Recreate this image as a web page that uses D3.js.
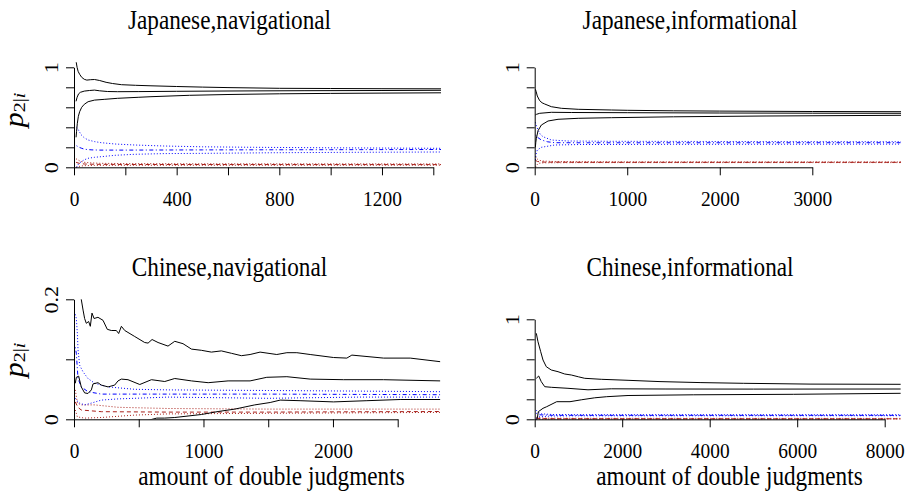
<!DOCTYPE html>
<html>
<head>
<meta charset="utf-8">
<script src="https://cdn.jsdelivr.net/npm/d3@7"></script>
<style>
  body { margin: 0; background: #fff; }
  text { font-family: "Liberation Serif", "Times New Roman", serif; fill: #000; }
</style>
</head>
<body>
<svg id="chart" width="909" height="492"></svg>
<script>
// ---- data: [amount of double judgments, p] ----
// Japanese, navigational
const jnBlackUp  = [[8,1.06],[12,1.0],[16,0.96],[22,0.93],[30,0.9],[40,0.88],[50,0.872],[65,0.876],[80,0.878],[100,0.868],[125,0.85],[150,0.838],[185,0.826],[240,0.82],[300,0.815],[400,0.808],[500,0.802],[600,0.797],[800,0.79],[1000,0.788],[1200,0.786],[1430,0.785]];
const jnBlackMid = [[8,0.66],[12,0.7],[18,0.735],[25,0.75],[40,0.762],[60,0.768],[80,0.772],[100,0.765],[130,0.758],[170,0.756],[250,0.757],[400,0.76],[600,0.763],[900,0.766],[1200,0.768],[1430,0.77]];
const jnBlackLo  = [[8,0.3],[10,0.36],[13,0.44],[17,0.51],[22,0.556],[30,0.6],[40,0.63],[55,0.656],[80,0.672],[120,0.68],[170,0.69],[250,0.7],[300,0.706],[450,0.72],[600,0.728],[800,0.735],[1000,0.739],[1200,0.742],[1430,0.745]];
const jnBlueUp   = [[10,0.4],[14,0.39],[20,0.36],[28,0.325],[40,0.295],[55,0.273],[80,0.257],[106,0.246],[160,0.233],[236,0.223],[350,0.213],[500,0.205],[700,0.2],[1000,0.195],[1430,0.19]];
const jnBlueMid  = [[10,0.215],[20,0.2],[30,0.19],[42,0.18],[70,0.174],[100,0.172],[200,0.172],[500,0.174],[1000,0.176],[1430,0.178]];
const jnBlueLo   = [[10,0.0],[14,0.02],[20,0.04],[28,0.056],[40,0.075],[55,0.09],[80,0.1],[106,0.106],[160,0.12],[236,0.13],[350,0.137],[530,0.14],[800,0.146],[1100,0.15],[1430,0.153]];
const jnRedUp    = [[8,0.085],[15,0.075],[25,0.06],[40,0.05],[60,0.045],[100,0.04],[200,0.037],[500,0.035],[1430,0.034]];
const jnRedMid   = [[8,0.05],[20,0.04],[40,0.033],[80,0.03],[200,0.028],[1430,0.027]];
const jnRedLo    = [[8,0.0],[15,0.005],[25,0.012],[40,0.016],[80,0.019],[200,0.02],[1430,0.021]];

// Japanese, informational
const jiBlackUp  = [[7,0.78],[15,0.76],[28,0.713],[54,0.666],[80,0.645],[108,0.633],[180,0.606],[288,0.59],[470,0.58],[830,0.573],[1000,0.57],[1500,0.565],[2000,0.562],[3000,0.558],[3960,0.556]];
const jiBlackMid = [[7,0.523],[20,0.53],[54,0.54],[180,0.55],[400,0.548],[1000,0.546],[2000,0.543],[3000,0.541],[3960,0.54]];
const jiBlackLo  = [[7,0.2],[12,0.25],[18,0.29],[36,0.366],[72,0.423],[144,0.463],[252,0.48],[470,0.49],[830,0.496],[1500,0.505],[2500,0.513],[3960,0.52]];
const jiBlueUp   = [[7,0.45],[20,0.41],[36,0.373],[60,0.33],[90,0.306],[180,0.273],[360,0.263],[800,0.26],[2000,0.258],[3960,0.256]];
const jiBlueMid  = [[7,0.325],[30,0.3],[72,0.273],[140,0.255],[216,0.246],[500,0.245],[3960,0.246]];
const jiBlueLo   = [[7,0.073],[15,0.13],[28,0.173],[72,0.2],[216,0.223],[500,0.228],[1500,0.23],[3960,0.232]];
const jiRedUp    = [[7,0.106],[20,0.09],[40,0.073],[80,0.063],[200,0.058],[1000,0.055],[3960,0.054]];
const jiRedMid   = [[7,0.07],[30,0.058],[100,0.052],[500,0.05],[3960,0.05]];
const jiRedLo    = [[7,0.0],[20,0.02],[40,0.04],[100,0.045],[500,0.047],[3960,0.047]];

// Chinese, navigational
const cnBlackUp  = [[20,0.3],[56,0.2],[70,0.182],[82,0.168],[95,0.16],[113,0.163],[126,0.155],[139,0.177],[155,0.168],[185,0.17],[224,0.165],[257,0.15],[288,0.148],[327,0.148],[345,0.143],[366,0.155],[392,0.148],[469,0.138],[546,0.128],[572,0.127],[603,0.133],[649,0.128],[726,0.122],[778,0.13],[842,0.126],[907,0.117],[984,0.115],[1061,0.112],[1138,0.114],[1216,0.11],[1293,0.106],[1360,0.108],[1437,0.112],[1566,0.108],[1644,0.111],[1721,0.111],[1824,0.108],[2004,0.103],[2107,0.102],[2146,0.107],[2391,0.102],[2597,0.102],[2829,0.096]];
const cnBlackMid = [[10,0.06],[18,0.07],[36,0.072],[56,0.054],[82,0.044],[108,0.043],[134,0.049],[147,0.059],[185,0.061],[211,0.057],[263,0.054],[314,0.057],[340,0.064],[366,0.067],[417,0.066],[508,0.058],[598,0.066],[701,0.063],[778,0.068],[907,0.064],[1036,0.061],[1190,0.064],[1360,0.064],[1489,0.07],[1644,0.071],[1824,0.067],[2081,0.066],[2391,0.066],[2829,0.064]];
const cnBlackLo  = [[10,-0.05],[300,-0.02],[550,-0.003],[639,0.002],[700,0.002],[778,0.003],[984,0.008],[1113,0.013],[1242,0.017],[1396,0.024],[1515,0.028],[1592,0.032],[1746,0.031],[2004,0.029],[2262,0.031],[2519,0.033],[2829,0.033]];
const cnBlueUp   = [[10,0.175],[18,0.168],[26,0.143],[31,0.116],[44,0.09],[70,0.079],[108,0.068],[160,0.06],[263,0.054],[469,0.05],[726,0.049],[1500,0.048],[2200,0.047],[2829,0.046]];
const cnBlueMid  = [[10,0.12],[18,0.11],[31,0.068],[56,0.054],[108,0.046],[211,0.042],[1500,0.042],[2829,0.041]];
const cnBlueLo   = [[10,0.035],[18,0.032],[44,0.027],[82,0.024],[134,0.027],[211,0.032],[340,0.034],[726,0.037],[1500,0.035],[2200,0.037],[2829,0.037]];
const cnRedUp    = [[10,0.049],[26,0.027],[56,0.024],[160,0.024],[340,0.02],[726,0.018],[1500,0.017],[2829,0.017]];
const cnRedMid   = [[10,0.029],[30,0.02],[56,0.0155],[211,0.0127],[726,0.012],[1500,0.012],[2829,0.013]];
const cnRedLo    = [[10,0.0155],[26,0.004],[82,0.002],[211,0.003],[469,0.007],[726,0.009],[1500,0.01],[2829,0.0115]];

// Chinese, informational
const ciBlackUp  = [[37,0.86],[75,0.776],[137,0.676],[190,0.593],[265,0.526],[380,0.493],[533,0.476],[686,0.453],[837,0.443],[1000,0.425],[1143,0.41],[1522,0.4],[2133,0.39],[2864,0.377],[3800,0.367],[4768,0.36],[6293,0.352],[8366,0.35]];
const ciBlackMid = [[37,0.41],[91,0.433],[151,0.376],[229,0.326],[380,0.32],[761,0.31],[1218,0.295],[1751,0.305],[3000,0.303],[5000,0.302],[8366,0.303]];
const ciBlackLo  = [[37,0.0],[59,0.01],[83,0.076],[190,0.11],[274,0.126],[503,0.176],[807,0.176],[1065,0.195],[1371,0.215],[1646,0.226],[2133,0.238],[3625,0.245],[5911,0.25],[8366,0.26]];
const ciBlueUp   = [[37,0.09],[80,0.07],[150,0.055],[400,0.048],[1000,0.046],[8366,0.045]];
const ciBlueMid  = [[37,0.06],[100,0.045],[400,0.04],[8366,0.04]];
const ciBlueLo   = [[37,0.01],[100,0.025],[400,0.033],[1000,0.035],[8366,0.036]];
const ciRedUp    = [[37,0.02],[200,0.012],[1000,0.01],[8366,0.009]];
const ciRedMid   = [[37,0.01],[300,0.006],[8366,0.005]];
const ciRedLo    = [[37,0.0],[300,0.002],[8366,0.002]];

// ticks / labels
const jnXTicks = [0,200,400,600,800,1000,1200,1400];
const jnXLabels = ["0","","400","","800","","1200",""];
const jiXTicks = [0,1000,2000,3000];
const jiXLabels = ["0","1000","2000","3000"];
const cnXTicks = [0,500,1000,1500,2000,2500];
const cnXLabels = ["0","","1000","","2000",""];
const ciXTicks = [0,2000,4000,6000,8000];
const ciXLabels = ["0","2000","4000","6000","8000"];
const unitYTicks = [0,0.2,0.4,0.6,0.8,1];
const unitYLabels = ["0","","","","","1"];
const cnYTicks = [0,0.1,0.2];
const cnYLabels = ["0","","0.2"];
const titles = ["Japanese,navigational","Japanese,informational","Chinese,navigational","Chinese,informational"];
const xTitle = "amount of double judgments";

// red dotted / dashed, blue dotted / dash-dot, black solid
const BLUE = "#0000ff", RED = "#a8201a";
const styles = [
  {c: RED, d: "1,2"}, {c: RED, d: "4,3"}, {c: RED, d: "1,2"},
  {c: BLUE, d: "1,2"}, {c: BLUE, d: "1,2.5,4,2.5"}, {c: BLUE, d: "1,2"},
  {c: "#000", d: null}, {c: "#000", d: null}, {c: "#000", d: null}
];

const panels = [
  {title: titles[0], series: [jnRedUp, jnRedMid, jnRedLo, jnBlueUp, jnBlueMid, jnBlueLo, jnBlackUp, jnBlackMid, jnBlackLo],
   xTicks: jnXTicks, xLabels: jnXLabels, yTicks: unitYTicks, yLabels: unitYLabels, xMax: 1430,
   x0: 74, x1: 433.3, y0: 167.3, y1: 67.3, clipTop: 1.05, clipBot: -0.01,
   titleX: 229.5, titleY: 29, ylabY: 110, xlab: false},
  {title: titles[1], series: [jiRedUp, jiRedMid, jiRedLo, jiBlueUp, jiBlueMid, jiBlueLo, jiBlackUp, jiBlackMid, jiBlackLo],
   xTicks: jiXTicks, xLabels: jiXLabels, yTicks: unitYTicks, yLabels: unitYLabels, xMax: 3960,
   x0: 534.7, x1: 812.3, y0: 167.3, y1: 67.3, clipTop: 1.05, clipBot: -0.01,
   titleX: 690, titleY: 29, ylabY: null, xlab: false},
  {title: titles[2], series: [cnRedUp, cnRedMid, cnRedLo, cnBlueUp, cnBlueMid, cnBlueLo, cnBlackUp, cnBlackMid, cnBlackLo],
   xTicks: cnXTicks, xLabels: cnXLabels, yTicks: cnYTicks, yLabels: cnYLabels, xMax: 2830,
   x0: 74, x1: 397.7, y0: 419.3, y1: 299.3, clipTop: 0.2, clipBot: 0,
   titleX: 229.5, titleY: 275.5, ylabY: 360, xlab: true, xlabX: 271.5},
  {title: titles[3], series: [ciRedUp, ciRedMid, ciRedLo, ciBlueUp, ciBlueMid, ciBlueLo, ciBlackUp, ciBlackMid, ciBlackLo],
   xTicks: ciXTicks, xLabels: ciXLabels, yTicks: unitYTicks, yLabels: unitYLabels, xMax: 8370,
   x0: 534.7, x1: 884.7, y0: 419.3, y1: 319.3, clipTop: 1.05, clipBot: -0.01,
   titleX: 690, titleY: 275.5, ylabY: null, xlab: true, xlabX: 729.5}
];

const SQ = 0.88; // picture is a bit narrower than tall
const svg = d3.select("#chart");
const defs = svg.append("defs");

panels.forEach((p, i) => {
  const lastTick = p.xTicks[p.xTicks.length - 1];
  const x = d3.scaleLinear().domain([0, lastTick]).range([p.x0, p.x1]);
  const yMax = p.yTicks[p.yTicks.length - 1];
  const y = d3.scaleLinear().domain([0, yMax]).range([p.y0, p.y1]);

  defs.append("clipPath").attr("id", "clip" + i)
    .append("rect")
    .attr("x", x(0)).attr("width", x(p.xMax) - x(0))
    .attr("y", y(p.clipTop)).attr("height", y(p.clipBot) - y(p.clipTop));

  const g = svg.append("g");

  const line = d3.line().x(d => x(d[0])).y(d => y(d[1]));
  g.append("g").attr("clip-path", `url(#clip${i})`)
    .selectAll("path")
    .data(p.series)
    .enter().append("path")
    .attr("d", d => line(d))
    .attr("fill", "none")
    .attr("stroke", (d, k) => styles[k].c)
    .attr("stroke-width", 1)
    .attr("stroke-dasharray", (d, k) => styles[k].d);

  // x axis
  const xa = g.append("g")
    .attr("transform", `translate(0,${p.y0})`)
    .call(d3.axisBottom(x).tickValues(p.xTicks).tickFormat((d, k) => p.xLabels[k]).tickSize(8).tickSizeOuter(0));
  xa.attr("font-size", 22).attr("font-family", null);
  xa.selectAll("text").attr("y", 38.5).attr("dy", 0).attr("transform", `scale(${SQ},1)`);

  // y axis
  const ya = g.append("g")
    .attr("transform", `translate(${p.x0},0)`)
    .call(d3.axisLeft(y).tickValues(p.yTicks).tickFormat((d, k) => p.yLabels[k]).tickSize(8).tickSizeOuter(0));
  ya.attr("font-size", 22).attr("font-family", null);
  ya.selectAll("text")
    .attr("x", 0).attr("dy", 0)
    .attr("text-anchor", "middle")
    .attr("transform", `translate(-16,0) scale(${SQ},1) rotate(-90)`);

  g.selectAll(".domain, .tick line").attr("stroke", "#000").attr("stroke-width", 1);

  // title
  g.append("text")
    .attr("transform", `translate(${p.titleX},${p.titleY}) scale(${SQ},1)`)
    .attr("text-anchor", "middle")
    .attr("font-size", 26.4)
    .text(p.title);

  if (p.xlab) {
    g.append("text")
      .attr("transform", `translate(${p.xlabX},485) scale(${SQ},1)`)
      .attr("text-anchor", "middle")
      .attr("font-size", 26.4)
      .text(xTitle);
  }

  if (p.ylabY !== null) {
    const t = g.append("text")
      .attr("transform", `translate(22.5,${p.ylabY}) scale(${SQ},1) rotate(-90)`)
      .attr("text-anchor", "middle")
      .attr("font-size", 30);
    t.append("tspan").attr("font-style", "italic").text("p");
    t.append("tspan").attr("font-size", 20).attr("dy", 3).text("2|");
    t.append("tspan").attr("font-size", 20).attr("font-style", "italic").text("i");
  }
});
</script>
</body>
</html>
